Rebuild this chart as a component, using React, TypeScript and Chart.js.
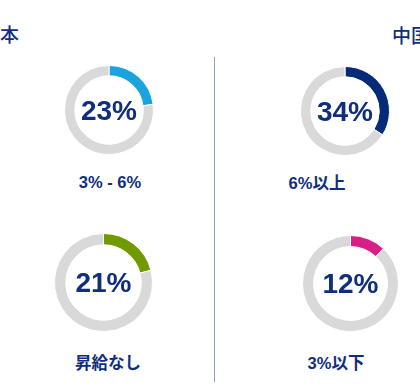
import React, { useEffect, useRef } from "react";
import { Chart, registerables } from "chart.js";

Chart.register(...registerables);

const regionTitles = ["日本", "中国"];
const categoryLabels = ["3% - 6%", "昇給なし", "6%以上", "3%以下"];
const shareValues = [23, 21, 34, 12];
const segmentColors = ["#1ba3dd", "#719a00", "#042a78", "#d81f88"];
const restColor = "#d9d9d9";
const textColor = "#0f2f7c";

const centerTextPlugin = {
  id: "centerText",
  afterDraw(chart: any) {
    const arc = chart.getDatasetMeta(0).data[0];
    if (!arc) return;
    const ctx = chart.ctx;
    const txt = chart.options.plugins.centerText.text;
    ctx.save();
    ctx.font = "bold 28px 'Liberation Sans', Arial, sans-serif";
    ctx.fillStyle = textColor;
    ctx.textAlign = "center";
    ctx.textBaseline = "middle";
    ctx.fillText(txt, arc.x, arc.y + 2);
    ctx.restore();
  },
};

function Donut({ value, color, size, cx, cy }: { value: number; color: string; size: number; cx: number; cy: number }) {
  const ref = useRef<HTMLCanvasElement>(null);
  useEffect(() => {
    if (!ref.current) return;
    const chart = new Chart(ref.current, {
      type: "doughnut",
      data: {
        labels: ["share", "rest"],
        datasets: [
          {
            data: [value, 100 - value],
            backgroundColor: [color, restColor],
            borderColor: "#ffffff",
            borderWidth: 1,
          },
        ],
      },
      options: {
        responsive: false,
        animation: false,
        cutout: "77%",
        layout: { padding: 0 },
        plugins: {
          legend: { display: false },
          tooltip: { enabled: false },
          centerText: { text: value + "%" },
        } as any,
      },
      plugins: [centerTextPlugin],
    });
    return () => chart.destroy();
  }, [value, color, size]);
  return (
    <canvas
      ref={ref}
      width={size}
      height={size}
      style={{ position: "absolute", left: cx - size / 2, top: cy - size / 2, width: size, height: size }}
    />
  );
}

const labelStyle: React.CSSProperties = {
  position: "absolute",
  font: "bold 16.5px 'Liberation Sans', Arial, 'Noto Sans CJK JP', sans-serif",
  color: textColor,
  whiteSpace: "nowrap",
  lineHeight: "20px",
  transform: "translate(-50%, -50%)",
};

const titleStyle: React.CSSProperties = {
  position: "absolute",
  font: "500 19px 'Noto Sans CJK JP', sans-serif",
  color: textColor,
  whiteSpace: "nowrap",
  lineHeight: "19px",
};

export default function App() {
  const donuts = [
    { cx: 109, cy: 110, size: 90, lx: 110, ly: 182 },
    { cx: 103, cy: 282, size: 99, lx: 108, ly: 363 },
    { cx: 345, cy: 111, size: 90, lx: 317, ly: 183 },
    { cx: 350, cy: 283, size: 97, lx: 336, ly: 363 },
  ];
  return (
    <div style={{ position: "absolute", left: 0, top: 0, width: 420, height: 390, overflow: "hidden", background: "#fff" }}>
      <div style={{ ...titleStyle, left: -19, top: 24 }}>{regionTitles[0]}</div>
      <div style={{ ...titleStyle, left: 392, top: 25 }}>{regionTitles[1]}</div>
      <div style={{ position: "absolute", left: 214, top: 57, width: 1, height: 325, background: "#8fa2cf" }} />
      {donuts.map((d, i) => (
        <React.Fragment key={i}>
          <Donut value={shareValues[i]} color={segmentColors[i]} size={d.size} cx={d.cx} cy={d.cy} />
          <div style={{ ...labelStyle, left: d.lx, top: d.ly }}>{categoryLabels[i]}</div>
        </React.Fragment>
      ))}
    </div>
  );
}
